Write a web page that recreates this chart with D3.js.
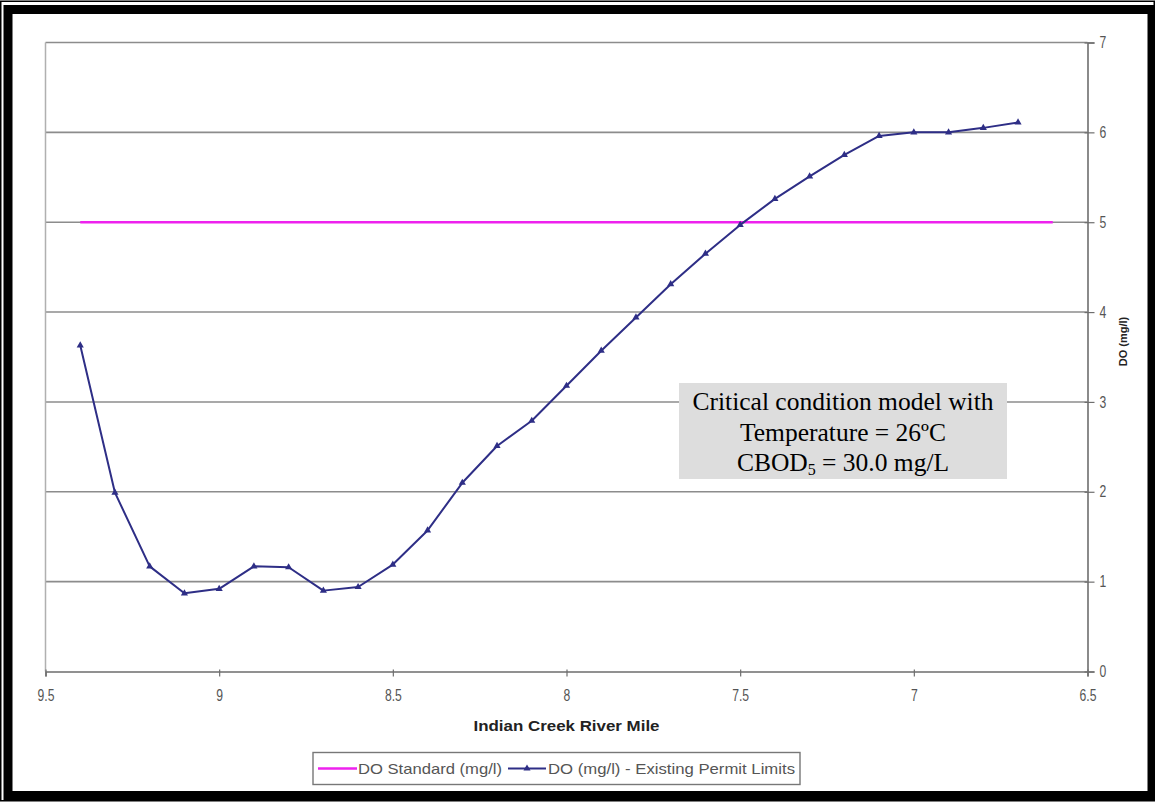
<!DOCTYPE html>
<html><head><meta charset="utf-8">
<script src="https://cdn.jsdelivr.net/npm/d3@7"></script>
<style>body{margin:0;background:#fff}svg{display:block}</style>
</head><body>
<script>
// ---- data ----
const riverMile = [9.4,9.3,9.2,9.1,9.0,8.9,8.8,8.7,8.6,8.5,8.4,8.3,8.2,8.1,8.0,7.9,7.8,7.7,7.6,7.5,7.4,7.3,7.2,7.1,7.0,6.9,6.8,6.7];
const doExisting = [3.63,1.99,1.17,0.87,0.92,1.17,1.16,0.90,0.94,1.19,1.57,2.10,2.51,2.79,3.18,3.57,3.94,4.31,4.65,4.97,5.26,5.51,5.75,5.96,6.00,6.00,6.05,6.11];
const stdMile = [9.4,6.6];
const doStandard = [5,5];
const xTicks = [9.5,9,8.5,8,7.5,7,6.5];
const yTicks = [0,1,2,3,4,5,6,7];
const seriesNames = ["DO Standard (mg/l)","DO (mg/l) - Existing Permit Limits"];
const xTitle = "Indian Creek River Mile";
const yTitle = "DO (mg/l)";
const noteLines = ["Critical condition model with","Temperature = 26ºC","CBOD"];

const W=1155,H=802;
const sans="Arial, 'Liberation Sans', sans-serif";
const svg=d3.select("body").append("svg").attr("width",W).attr("height",H);
svg.append("rect").attr("width",W).attr("height",H).attr("fill","#fff");

// frames
svg.append("rect").attr("x",0.75).attr("y",1.25).attr("width",1153.5).attr("height",799.5)
  .attr("fill","none").attr("stroke","#000").attr("stroke-width",1.5);
svg.append("rect").attr("x",8).attr("y",9.5).attr("width",1144).attr("height",786)
  .attr("fill","none").attr("stroke","#000").attr("stroke-width",9);

const L=45.5,R=1087.5,T=42.5,B=671.5;
const x=d3.scaleLinear().domain([9.5,6.5]).range([L,R]);
const y=d3.scaleLinear().domain([0,7]).range([B,T]);

// gridlines
svg.append("g").selectAll("line").data(yTicks.filter(d=>d>0)).join("line")
  .attr("x1",L).attr("x2",R).attr("y1",d=>y(d)).attr("y2",d=>y(d))
  .attr("stroke","#8c8c8c").attr("stroke-width",1.6);
// left border
svg.append("line").attr("x1",L).attr("x2",L).attr("y1",T).attr("y2",B)
  .attr("stroke","#b0b0b0").attr("stroke-width",1.5);

// axes
const xAxis=svg.append("g").attr("transform",`translate(0,${B})`)
  .call(d3.axisBottom(x).tickValues(xTicks).tickSize(5).tickPadding(0).tickFormat(d3.format("")));
const yAxis=svg.append("g").attr("transform",`translate(${R},0)`)
  .call(d3.axisRight(y).tickValues(yTicks).tickSize(7).tickPadding(5).tickFormat(d3.format("d")));
[xAxis,yAxis].forEach(a=>{
  a.select(".domain").attr("stroke","#6e6e6e").attr("stroke-width",1.6);
  a.selectAll(".tick line").attr("stroke","#6e6e6e").attr("stroke-width",1.2);
  a.selectAll("text").attr("font-family",sans).attr("font-size",16).attr("fill","#555");
});
xAxis.selectAll(".tick line").attr("y1",-2);
yAxis.selectAll(".tick line").attr("x1",-3);
// narrow, tall digits as in the reference
xAxis.selectAll(".tick text").attr("y",null).attr("dy",null)
  .attr("transform","translate(0,29.5) scale(0.76,1)");
yAxis.selectAll(".tick text").attr("x",null)
  .attr("transform","translate(12,0) scale(0.76,1)");

// titles
svg.append("text").attr("x",(L+R)/2-0).attr("y",731).attr("text-anchor","middle")
  .attr("font-family",sans).attr("font-size",14).attr("font-weight","bold")
  .attr("textLength",186).attr("lengthAdjust","spacingAndGlyphs")
  .attr("fill","#222").text(xTitle);
svg.append("text").attr("transform",`translate(1127,341.5) rotate(-90)`).attr("text-anchor","middle")
  .attr("font-family",sans).attr("font-size",11).attr("font-weight","bold")
  .attr("fill","#222").text(yTitle);

// standard line
const stdData=stdMile.map((m,i)=>[m,doStandard[i]]);
svg.append("path").datum(stdData).attr("fill","none").attr("stroke","#ee22ee").attr("stroke-width",2.6)
  .attr("d",d3.line().x(d=>x(d[0])).y(d=>y(d[1])));

// existing series
const exData=riverMile.map((m,i)=>[m,doExisting[i]]);
const navy="#2e2e86";
svg.append("path").datum(exData).attr("fill","none").attr("stroke",navy).attr("stroke-width",2)
  .attr("stroke-linejoin","round")
  .attr("d",d3.line().x(d=>x(d[0])).y(d=>y(d[1])));
const tri=d3.symbol().type(d3.symbolTriangle).size(22);
svg.append("g").selectAll("path").data(exData).join("path")
  .attr("transform",d=>`translate(${x(d[0])},${y(d[1])})`).attr("d",tri).attr("fill",navy);

// annotation box
const bx=679,by=383,bw=328,bh=96;
svg.append("rect").attr("x",bx).attr("y",by).attr("width",bw).attr("height",bh).attr("fill","#dddddd");
const serif="'Times New Roman','Liberation Serif',serif";
const cx=bx+bw/2;
svg.append("text").attr("x",cx).attr("y",409.5).attr("text-anchor","middle").attr("font-family",serif)
  .attr("font-size",25.5).attr("fill","#000").text(noteLines[0]);
svg.append("text").attr("x",cx).attr("y",440.5).attr("text-anchor","middle").attr("font-family",serif)
  .attr("font-size",25.5).attr("fill","#000").text(noteLines[1]);
const t3=svg.append("text").attr("x",cx).attr("y",471).attr("text-anchor","middle").attr("font-family",serif)
  .attr("font-size",25.5).attr("fill","#000");
t3.append("tspan").text(noteLines[2]);
t3.append("tspan").attr("font-size",16).attr("dy",4).text("5");
t3.append("tspan").attr("dy",-4).text(" = 30.0 mg/L");

// legend
const lg=svg.append("g");
lg.append("rect").attr("x",313).attr("y",752.5).attr("width",487).attr("height",32)
  .attr("fill","#fff").attr("stroke","#777").attr("stroke-width",1.4);
const ly=768.5;
lg.append("line").attr("x1",318).attr("x2",357).attr("y1",ly).attr("y2",ly).attr("stroke","#ee22ee").attr("stroke-width",2.6);
lg.append("text").attr("x",358).attr("y",774).attr("font-family",sans)
  .attr("font-size",15).attr("textLength",144).attr("lengthAdjust","spacingAndGlyphs")
  .attr("fill","#555").text(seriesNames[0]);
lg.append("line").attr("x1",508).attr("x2",546).attr("y1",ly).attr("y2",ly).attr("stroke",navy).attr("stroke-width",2);
lg.append("path").attr("transform",`translate(527,${ly})`).attr("d",tri).attr("fill",navy);
lg.append("text").attr("x",548).attr("y",774).attr("font-family",sans)
  .attr("font-size",15).attr("textLength",247).attr("lengthAdjust","spacingAndGlyphs")
  .attr("fill","#555").text(seriesNames[1]);
</script>
</body></html>
